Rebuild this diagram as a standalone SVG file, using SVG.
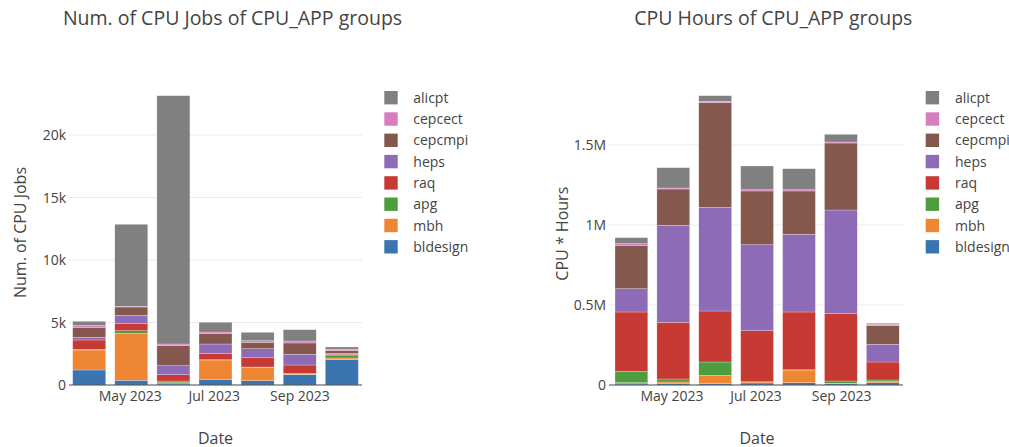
<svg xmlns="http://www.w3.org/2000/svg" width="1009" height="447" viewBox="0 0 1009 447">
<style>
text{font-family:"Open Sans","Noto Sans","Liberation Sans",sans-serif;fill:#444}
.title{font-size:19.5px;text-anchor:middle}
.tick{font-size:14px}
.yt{text-anchor:end}
.xt{text-anchor:middle}
.atitle{font-size:16px;text-anchor:middle}
.leg{font-size:14px}
.grid{stroke:#ebebeb;stroke-width:1}
.axis{stroke:#444;stroke-width:1}
rect.b{stroke:#fff;stroke-width:0.4;stroke-opacity:0.6}
.c0{fill:#3a75b1}.c1{fill:#ef8634}.c2{fill:#4d9c3e}.c3{fill:#c73a33}.c4{fill:#8e6bb7}.c5{fill:#85584e}.c6{fill:#d87dc0}.c7{fill:#808080}
</style>
<rect width="1009" height="447" fill="#fff"/>
<g id="left-chart">
<text class="title" x="232.5" y="25">Num. of CPU Jobs of CPU_APP groups</text>
<g id="left-grid">
<line class="grid" x1="69" y1="322.5" x2="362" y2="322.5"/>
<line class="grid" x1="69" y1="260" x2="362" y2="260"/>
<line class="grid" x1="69" y1="197.5" x2="362" y2="197.5"/>
<line class="grid" x1="69" y1="135" x2="362" y2="135"/>
</g>
<g id="left-bars">
<!-- bar1 -->
<rect class="b c0" x="72.7" y="370" width="33" height="15"/>
<rect class="b c1" x="72.7" y="350" width="33" height="20"/>
<rect class="b c2" x="72.7" y="349.3" width="33" height="0.7"/>
<rect class="b c3" x="72.7" y="340" width="33" height="9.3"/>
<rect class="b c4" x="72.7" y="337.3" width="33" height="2.7"/>
<rect class="b c5" x="72.7" y="327.3" width="33" height="10"/>
<rect class="b c6" x="72.7" y="325.5" width="33" height="1.8"/>
<rect class="b c7" x="72.7" y="321.3" width="33" height="4.2"/>
<!-- bar2 -->
<rect class="b c0" x="114.8" y="380.3" width="33" height="4.7"/>
<rect class="b c1" x="114.8" y="333.3" width="33" height="47"/>
<rect class="b c2" x="114.8" y="330.7" width="33" height="2.6"/>
<rect class="b c3" x="114.8" y="323.7" width="33" height="7"/>
<rect class="b c4" x="114.8" y="315.3" width="33" height="8.4"/>
<rect class="b c5" x="114.8" y="307" width="33" height="8.3"/>
<rect class="b c6" x="114.8" y="306.3" width="33" height="0.7"/>
<rect class="b c7" x="114.8" y="224.3" width="33" height="82"/>
<!-- bar3 -->
<rect class="b c0" x="156.9" y="384" width="33" height="1"/>
<rect class="b c1" x="156.9" y="382.7" width="33" height="1.3"/>
<rect class="b c2" x="156.9" y="381" width="33" height="1.7"/>
<rect class="b c3" x="156.9" y="374.7" width="33" height="6.3"/>
<rect class="b c4" x="156.9" y="365.7" width="33" height="9"/>
<rect class="b c5" x="156.9" y="345.7" width="33" height="20"/>
<rect class="b c6" x="156.9" y="344" width="33" height="1.7"/>
<rect class="b c7" x="156.9" y="95.7" width="33" height="248.3"/>
<!-- bar4 -->
<rect class="b c0" x="199" y="379.7" width="33" height="5.3"/>
<rect class="b c1" x="199" y="360" width="33" height="19.7"/>
<rect class="b c2" x="199" y="359.7" width="33" height="0.3"/>
<rect class="b c3" x="199" y="353.3" width="33" height="6.4"/>
<rect class="b c4" x="199" y="344" width="33" height="9.3"/>
<rect class="b c5" x="199" y="333.3" width="33" height="10.7"/>
<rect class="b c6" x="199" y="332" width="33" height="1.3"/>
<rect class="b c7" x="199" y="322.3" width="33" height="9.7"/>
<!-- bar5 -->
<rect class="b c0" x="241.1" y="380.7" width="33" height="4.3"/>
<rect class="b c1" x="241.1" y="367.3" width="33" height="13.4"/>
<rect class="b c2" x="241.1" y="367" width="33" height="0.3"/>
<rect class="b c3" x="241.1" y="357.7" width="33" height="9.3"/>
<rect class="b c4" x="241.1" y="348.7" width="33" height="9"/>
<rect class="b c5" x="241.1" y="342.3" width="33" height="6.4"/>
<rect class="b c6" x="241.1" y="340.7" width="33" height="1.6"/>
<rect class="b c7" x="241.1" y="332.3" width="33" height="8.4"/>
<!-- bar6 -->
<rect class="b c0" x="283.2" y="374.7" width="33" height="10.3"/>
<rect class="b c1" x="283.2" y="374.2" width="33" height="0.5"/>
<rect class="b c2" x="283.2" y="373.3" width="33" height="0.9"/>
<rect class="b c3" x="283.2" y="365" width="33" height="8.3"/>
<rect class="b c4" x="283.2" y="354.3" width="33" height="10.7"/>
<rect class="b c5" x="283.2" y="343" width="33" height="11.3"/>
<rect class="b c6" x="283.2" y="341" width="33" height="2"/>
<rect class="b c7" x="283.2" y="329.7" width="33" height="11.3"/>
<!-- bar7 -->
<rect class="b c0" x="325.3" y="359.5" width="33" height="25.5"/>
<rect class="b c1" x="325.3" y="358" width="33" height="1.5"/>
<rect class="b c2" x="325.3" y="355.7" width="33" height="2.3"/>
<rect class="b c3" x="325.3" y="354.3" width="33" height="1.4"/>
<rect class="b c4" x="325.3" y="353.3" width="33" height="1"/>
<rect class="b c5" x="325.3" y="350.5" width="33" height="2.8"/>
<rect class="b c6" x="325.3" y="349.3" width="33" height="1.2"/>
<rect class="b c7" x="325.3" y="347" width="33" height="2.3"/>
</g>
<line class="axis" x1="69" y1="385" x2="362" y2="385"/>
<g id="left-ticks" class="tick">
<text class="yt" x="66" y="390">0</text>
<text class="yt" x="66" y="327.5">5k</text>
<text class="yt" x="66" y="265">10k</text>
<text class="yt" x="66" y="202.5">15k</text>
<text class="yt" x="66" y="140">20k</text>
<text class="xt" x="130.3" y="401">May 2023</text>
<text class="xt" x="214.2" y="401">Jul 2023</text>
<text class="xt" x="300" y="401">Sep 2023</text>
</g>
<text class="atitle" x="215.5" y="444">Date</text>
<text class="atitle" transform="translate(26,232.5) rotate(-90)">Num. of CPU Jobs</text>
<g id="left-legend" class="leg">
<rect class="c7" x="384.3" y="91" width="13.4" height="13.4"/><text x="413.3" y="102.7">alicpt</text>
<rect class="c6" x="384.3" y="112.3" width="13.4" height="13.4"/><text x="413.3" y="124">cepcect</text>
<rect class="c5" x="384.3" y="133.6" width="13.4" height="13.4"/><text x="413.3" y="145.3">cepcmpi</text>
<rect class="c4" x="384.3" y="154.9" width="13.4" height="13.4"/><text x="413.3" y="166.6">heps</text>
<rect class="c3" x="384.3" y="176.2" width="13.4" height="13.4"/><text x="413.3" y="187.9">raq</text>
<rect class="c2" x="384.3" y="197.5" width="13.4" height="13.4"/><text x="413.3" y="209.2">apg</text>
<rect class="c1" x="384.3" y="218.8" width="13.4" height="13.4"/><text x="413.3" y="230.5">mbh</text>
<rect class="c0" x="384.3" y="240.1" width="13.4" height="13.4"/><text x="413.3" y="251.8">bldesign</text>
</g>
</g>
<g id="right-chart">
<text class="title" x="773.3" y="25">CPU Hours of CPU_APP groups</text>
<g id="right-grid">
<line class="grid" x1="609" y1="305" x2="903" y2="305"/>
<line class="grid" x1="609" y1="225" x2="903" y2="225"/>
<line class="grid" x1="609" y1="145" x2="903" y2="145"/>
</g>
<g id="right-bars">
<!-- bar1 -->
<rect class="b c0" x="615" y="384" width="32.8" height="1"/>
<rect class="b c1" x="615" y="382.7" width="32.8" height="1.3"/>
<rect class="b c2" x="615" y="371.3" width="32.8" height="11.4"/>
<rect class="b c3" x="615" y="312" width="32.8" height="59.3"/>
<rect class="b c4" x="615" y="288.7" width="32.8" height="23.3"/>
<rect class="b c5" x="615" y="245.3" width="32.8" height="43.4"/>
<rect class="b c6" x="615" y="243.7" width="32.8" height="1.6"/>
<rect class="b c7" x="615" y="237.7" width="32.8" height="6"/>
<!-- bar2 -->
<rect class="b c0" x="656.9" y="383.3" width="32.8" height="1.7"/>
<rect class="b c1" x="656.9" y="382" width="32.8" height="1.3"/>
<rect class="b c2" x="656.9" y="379" width="32.8" height="3"/>
<rect class="b c3" x="656.9" y="322.3" width="32.8" height="56.7"/>
<rect class="b c4" x="656.9" y="225.3" width="32.8" height="97"/>
<rect class="b c5" x="656.9" y="189" width="32.8" height="36.3"/>
<rect class="b c6" x="656.9" y="188" width="32.8" height="1"/>
<rect class="b c7" x="656.9" y="167.7" width="32.8" height="20.3"/>
<!-- bar3 -->
<rect class="b c0" x="698.8" y="383.7" width="32.8" height="1.3"/>
<rect class="b c1" x="698.8" y="375.3" width="32.8" height="8.4"/>
<rect class="b c2" x="698.8" y="362" width="32.8" height="13.3"/>
<rect class="b c3" x="698.8" y="311" width="32.8" height="51"/>
<rect class="b c4" x="698.8" y="207.3" width="32.8" height="103.7"/>
<rect class="b c5" x="698.8" y="102.7" width="32.8" height="104.6"/>
<rect class="b c6" x="698.8" y="101.3" width="32.8" height="1.4"/>
<rect class="b c7" x="698.8" y="95.7" width="32.8" height="5.6"/>
<!-- bar4 -->
<rect class="b c0" x="740.7" y="383" width="32.8" height="2"/>
<rect class="b c1" x="740.7" y="382" width="32.8" height="1"/>
<rect class="b c2" x="740.7" y="381.8" width="32.8" height="0.2"/>
<rect class="b c3" x="740.7" y="330.7" width="32.8" height="51.1"/>
<rect class="b c4" x="740.7" y="244.7" width="32.8" height="86"/>
<rect class="b c5" x="740.7" y="191" width="32.8" height="53.7"/>
<rect class="b c6" x="740.7" y="189.7" width="32.8" height="1.3"/>
<rect class="b c7" x="740.7" y="166" width="32.8" height="23.7"/>
<!-- bar5 -->
<rect class="b c0" x="782.6" y="382.7" width="32.8" height="2.3"/>
<rect class="b c1" x="782.6" y="370" width="32.8" height="12.7"/>
<rect class="b c2" x="782.6" y="369.8" width="32.8" height="0.2"/>
<rect class="b c3" x="782.6" y="312" width="32.8" height="57.8"/>
<rect class="b c4" x="782.6" y="234.3" width="32.8" height="77.7"/>
<rect class="b c5" x="782.6" y="191" width="32.8" height="43.3"/>
<rect class="b c6" x="782.6" y="189.7" width="32.8" height="1.3"/>
<rect class="b c7" x="782.6" y="168.7" width="32.8" height="21"/>
<!-- bar6 -->
<rect class="b c0" x="824.5" y="383.7" width="32.8" height="1.3"/>
<rect class="b c1" x="824.5" y="383.2" width="32.8" height="0.5"/>
<rect class="b c2" x="824.5" y="381" width="32.8" height="2.2"/>
<rect class="b c3" x="824.5" y="313.7" width="32.8" height="67.3"/>
<rect class="b c4" x="824.5" y="210" width="32.8" height="103.7"/>
<rect class="b c5" x="824.5" y="143" width="32.8" height="67"/>
<rect class="b c6" x="824.5" y="142" width="32.8" height="1"/>
<rect class="b c7" x="824.5" y="134.3" width="32.8" height="7.7"/>
<!-- bar7 -->
<rect class="b c0" x="866.4" y="382.7" width="32.8" height="2.3"/>
<rect class="b c1" x="866.4" y="381.7" width="32.8" height="1"/>
<rect class="b c2" x="866.4" y="380" width="32.8" height="1.7"/>
<rect class="b c3" x="866.4" y="362" width="32.8" height="18"/>
<rect class="b c4" x="866.4" y="344.3" width="32.8" height="17.7"/>
<rect class="b c5" x="866.4" y="325.7" width="32.8" height="18.6"/>
<rect class="b c6" x="866.4" y="324.3" width="32.8" height="1.4"/>
<rect class="b c7" x="866.4" y="323.3" width="32.8" height="1"/>
</g>
<line class="axis" x1="609" y1="385" x2="903" y2="385"/>
<g id="right-ticks" class="tick">
<text class="yt" x="606" y="390">0</text>
<text class="yt" x="606" y="310">0.5M</text>
<text class="yt" x="606" y="230">1M</text>
<text class="yt" x="606" y="150">1.5M</text>
<text class="xt" x="672" y="401">May 2023</text>
<text class="xt" x="756" y="401">Jul 2023</text>
<text class="xt" x="841.7" y="401">Sep 2023</text>
</g>
<text class="atitle" x="757" y="444">Date</text>
<text class="atitle" transform="translate(568,233.7) rotate(-90)">CPU * Hours</text>
<g id="right-legend" class="leg">
<rect class="c7" x="925.7" y="91" width="13.4" height="13.4"/><text x="955" y="102.7">alicpt</text>
<rect class="c6" x="925.7" y="112.3" width="13.4" height="13.4"/><text x="955" y="124">cepcect</text>
<rect class="c5" x="925.7" y="133.6" width="13.4" height="13.4"/><text x="955" y="145.3">cepcmpi</text>
<rect class="c4" x="925.7" y="154.9" width="13.4" height="13.4"/><text x="955" y="166.6">heps</text>
<rect class="c3" x="925.7" y="176.2" width="13.4" height="13.4"/><text x="955" y="187.9">raq</text>
<rect class="c2" x="925.7" y="197.5" width="13.4" height="13.4"/><text x="955" y="209.2">apg</text>
<rect class="c1" x="925.7" y="218.8" width="13.4" height="13.4"/><text x="955" y="230.5">mbh</text>
<rect class="c0" x="925.7" y="240.1" width="13.4" height="13.4"/><text x="955" y="251.8">bldesign</text>
</g>
</g>
</svg>
